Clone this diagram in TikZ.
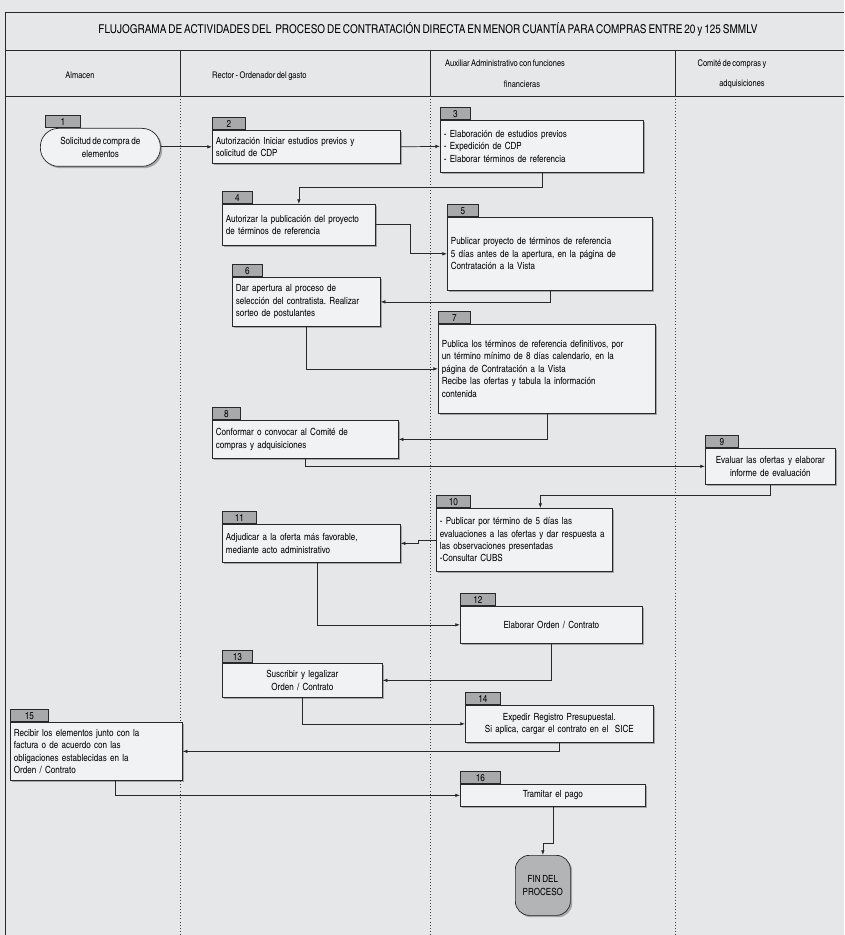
\documentclass[tikz,border=0pt]{standalone}
\usepackage{fontspec}
\setmainfont{texgyreheroscn}[Extension=.otf, UprightFont=*-regular, BoldFont=*-bold, WordSpace=0.7]
\frenchspacing
\usetikzlibrary{arrows.meta, shadows}
\definecolor{paper}{RGB}{229, 231, 233}
\definecolor{boxfill}{RGB}{241, 242, 243}
\definecolor{tabgray}{RGB}{168, 169, 171}
\definecolor{fingray}{RGB}{178, 180, 182}
\definecolor{inkline}{RGB}{40, 40, 45}

\tikzset{
  px/.style={x=0.03cm, y=-0.03cm},
  proc/.style 2 args={draw=inkline, fill=boxfill, line width=0.6pt, anchor=north west,
      drop shadow={shadow xshift=1.6pt, shadow yshift=-1.6pt, fill=black!60},
      minimum width=#1*0.03cm, text width=#1*0.03cm-6pt, minimum height=#2*0.03cm,
      inner xsep=3pt, inner ysep=1pt, align=left, font=\fontsize{8.4}{10.6}\selectfont},
  tab/.style={draw=inkline, fill=tabgray, anchor=south west, line width=0.5pt,
      minimum height=12*0.03cm, inner sep=0pt, font=\fontsize{8.5}{8.5}\selectfont},
  flow/.style={draw=inkline, line width=0.6pt, -{Latex[length=4pt, width=3pt]}},
  lane/.style={dotted, line width=0.6pt, black!75},
  head/.style={font=\fontsize{7.8}{9}\selectfont, inner sep=0pt},
}

\begin{document}
\begin{tikzpicture}[px]
            \pgfmathsetmacro{\laneA}{180}
            \pgfmathsetmacro{\laneB}{430}
            \pgfmathsetmacro{\laneC}{675}

            \useasboundingbox[fill=paper] (0,0) rectangle (844,935);

            % frame, title row and header row
            \draw[inkline, line width=0.8pt] (5,935) -- (5,12) -- (844,12);
            \draw[inkline, line width=0.8pt] (5,50) -- (844,50);
            \draw[inkline, line width=0.8pt] (5,96) -- (844,96);
            \foreach \x in {\laneA, \laneB, \laneC}{
                    \draw[inkline, line width=0.6pt] (\x,50) -- (\x,96);
                    \draw[lane] (\x,96) -- (\x,935);
                }

            \node[font=\fontsize{10.4}{12}\selectfont] (title) at (428,29) {FLUJOGRAMA DE ACTIVIDADES DEL\ \ PROCESO DE CONTRATACIÓN DIRECTA EN MENOR CUANTÍA PARA COMPRAS ENTRE 20 y 125 SMMLV};

            \node[head] (hAlm) at (80,75) {Almacen};
            \node[head, anchor=west] (hRec) at (212,76) {Rector - Ordenador del gasto};
            \node[head, anchor=west] (hAux1) at (445,63) {Auxiliar Administrativo con funciones};
            \node[head] (hAux2) at (522,84) {financieras};
            \node[head] (hCom1) at (732,64) {Comité de compras y};
            \node[head] (hCom2) at (742,84) {adquisiciones};

            % activities
            \node[draw=inkline, fill=boxfill, line width=0.6pt, anchor=north west, rounded corners=0.55cm,
                drop shadow={shadow xshift=1.6pt, shadow yshift=-1.6pt, fill=black!60},
                minimum width=3.6cm, minimum height=1.14cm, align=center,
                font=\fontsize{8.4}{10.6}\selectfont] (b1) at (40,128) {Solicitud de compra de\\elementos};
            \node[proc={188}{33}] (b2) at (212,130) {Autorización Iniciar estudios previos y\\solicitud de CDP};
            \node[proc={203}{52}] (b3) at (440,120) {- Elaboración de estudios previos\\- Expedición de CDP\\- Elaborar términos de referencia};
            \node[proc={153}{41}] (b4) at (222,204) {Autorizar la publicación del proyecto\\de términos de referencia};
            \node[proc={205}{73}] (b5) at (447,217) {Publicar proyecto de términos de referencia\\5 días antes de la apertura, en la página de\\Contratación a la Vista};
            \node[proc={148}{49}] (b6) at (232,277) {Dar apertura al proceso de\\selección del contratista. Realizar\\sorteo de postulantes};
            \node[proc={217}{89}] (b7) at (438,324) {Publica los términos de referencia definitivos, por\\un término mínimo de 8 días calendario, en la\\página de Contratación a la Vista\\Recibe las ofertas y tabula la información\\contenida};
            \node[proc={186}{38}] (b8) at (212,420) {Conformar o convocar al Comité de\\compras y adquisiciones};
            \node[proc={130}{36}, align=center] (b9) at (705,448) {Evaluar las ofertas y elaborar\\informe de evaluación};
            \node[proc={176}{63}] (b10) at (436,508) {- Publicar por término de 5 días las\\evaluaciones a las ofertas y dar respuesta a\\las observaciones presentadas\\-Consultar CUBS};
            \node[proc={178}{38}] (b11) at (222,524) {Adjudicar a la oferta más favorable,\\mediante acto administrativo};
            \node[proc={182}{37}, align=center] (b12) at (460,606) {Elaborar Orden / Contrato};
            \node[proc={160}{34}, align=center] (b13) at (222,663) {Suscribir y legalizar\\Orden / Contrato};
            \node[proc={188}{37}, align=center] (b14) at (465,705) {Expedir Registro Presupuestal.\\Si aplica, cargar el contrato en el\ \ SICE};
            \node[proc={172}{58}] (b15) at (10,722) {Recibir los elementos junto con la\\factura o de acuerdo con las\\obligaciones establecidas en la\\Orden / Contrato};
            \node[proc={185}{22}, align=center] (b16) at (460,784) {Tramitar el pago};
            \node[draw=inkline, fill=fingray, line width=0.6pt, anchor=north west, rounded corners=0.42cm,
                drop shadow={shadow xshift=1.6pt, shadow yshift=-1.6pt, fill=black!60},
                minimum width=1.65cm, minimum height=1.8cm, align=center, inner sep=1pt,
                font=\fontsize{8.4}{10.6}\selectfont] (fin) at (515,855) {FIN DEL\\PROCESO};

            % number tabs on top of the activities
            \node[tab, minimum width=1.05cm] (t1) at ([xshift=0.15cm]b1.north west) {1};
            \foreach \n/\w in {2/33, 3/30, 4/30, 5/31, 6/30, 7/32, 8/28, 9/33, 10/34, 11/34, 12/35, 13/30, 14/35, 15/38, 16/40}
            \node[tab, minimum width=\w*0.03cm] (t\n) at (b\n.north west) {\n};

            % connectors
            \draw[flow] (b1.east |- b2.west) -- (b2.west);
            \draw[flow] (b2.east) -- (b3.west);
            \draw[flow] (b3.south) -- ++(0,15) -| (b4.north);
            \draw[flow] (b4.east) -- ++(35,0) |- (b5.west);
            \draw[flow] (b5.south) |- (b6.east);
            \draw[flow] (b6.south) |- (b7.west);
            \draw[flow] (b7.south) |- (b8.east);
            \draw[flow] (b8.south) |- (b9.west);
            \draw[flow] (b9.south) -- ++(0,11) -| ([xshift=0.48cm]b10.north);
            \draw[flow] (b10.west) -- ++(-18,0) |- (b11.east);
            \draw[flow] ([xshift=0.18cm]b11.south) |- (b12.west);
            \draw[flow] (b12.south) |- (b13.east);
            \draw[flow] (b13.south) |- (b14.west);
            \draw[flow] (b14.south) |- (b15.east);
            \draw[flow] ([xshift=0.57cm]b15.south) |- (b16.west);
            \draw[flow] (b16.south) -- ++(0,37) -| (fin.north);

\end{tikzpicture}
\end{document}
